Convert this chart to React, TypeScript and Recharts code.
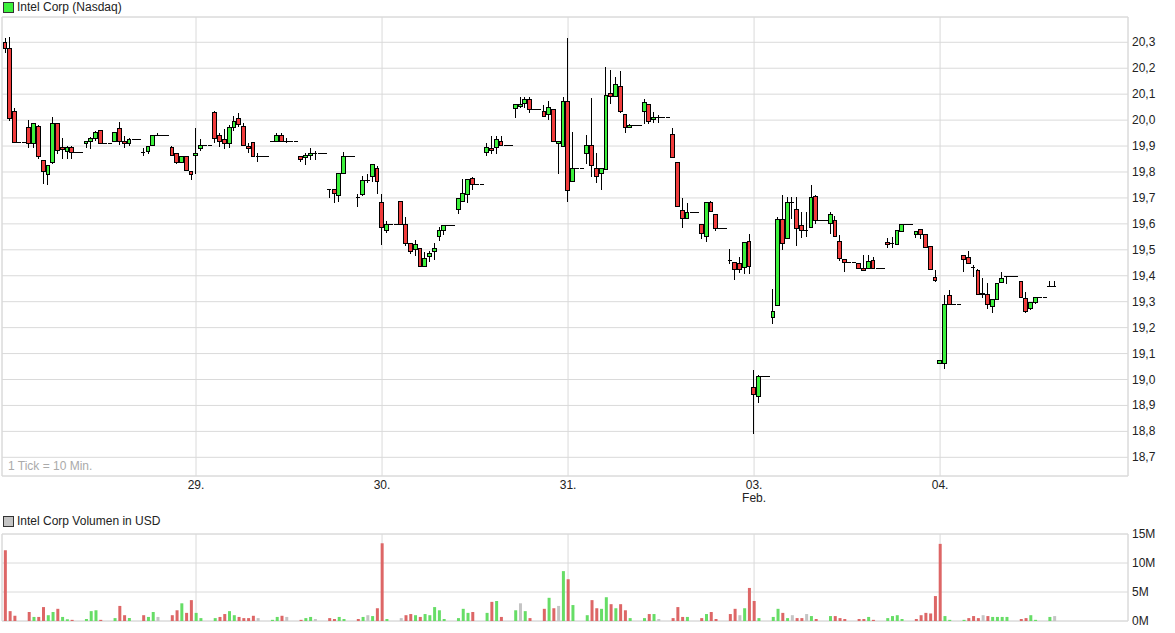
import React from "react";
import {
  ComposedChart,
  Bar,
  XAxis,
  YAxis,
  CartesianGrid,
  ReferenceArea,
  Cell,
} from "recharts";

// day boundaries sit on the first 10-min tick of each session
const dayTicks = [40, 79, 118, 157, 196];
const dayLabels = ["29.", "30.", "31.", "03.", "04."];
const monthLabels = ["", "", "", "Feb.", ""];
const priceTicks = [
  18.7, 18.8, 18.9, 19.0, 19.1, 19.2, 19.3, 19.4, 19.5, 19.6, 19.7, 19.8, 19.9,
  20.0, 20.1, 20.2, 20.3,
];
const volumeTicks = [0, 5, 10, 15];

const opens = [
  // 28.
  20.3, 20.275, 20.035, 19.915, 19.915, 19.97, 19.911, 19.974, 19.844, 19.789,
  19.835, 19.986, 19.893, 19.88, 19.895, 19.877, 19.877, 19.911, 19.919, 19.928,
  19.96, 19.911, 19.911, 19.919, 19.966, 19.919, 19.911, 19.927, 19.927, 19.874,
  19.879, 19.902, 19.939, 19.939, 19.939, 19.895, 19.87, 19.836, 19.86, 19.8,
  // 29.
  19.864, 19.891, 19.903, 19.903, 20.031, 19.939, 19.927, 19.909, 19.971, 20.006,
  19.974, 19.899, 19.915, 19.86, 19.86, 19.86, 19.917, 19.919, 19.939, 19.919,
  19.919, 19.919, 19.86, 19.856, 19.864, 19.873, 19.873, 19.873, 19.732, 19.731,
  19.708, 19.793, 19.861, 19.861, 19.7, 19.712, 19.769, 19.781, 19.814,
  // 30.
  19.683, 19.574, 19.597, 19.597, 19.686, 19.597, 19.526, 19.501, 19.506, 19.434,
  19.473, 19.493, 19.552, 19.574, 19.595, 19.595, 19.657, 19.685, 19.712, 19.774,
  19.752, 19.752, 19.874, 19.89, 19.894, 19.919, 19.903, 19.903, 20.045, 20.053,
  20.063, 20.081, 20.041, 20.041, 20.033, 20.021, 20.041, 19.911, 19.899,
  // 31.
  20.073, 19.764, 19.812, 19.812, 19.872, 19.903, 19.812, 19.793, 19.808, 20.104,
  20.09, 20.128, 20.021, 19.97, 19.978, 19.978, 20.035, 20.061, 20.002, 20.01,
  20.01, 20.01, 19.945, 19.835, 19.651, 19.62, 19.643, 19.643, 19.597, 19.551,
  19.681, 19.635, 19.581, 19.581, 19.46, 19.451, 19.447, 19.43, 19.533,
  // 03.
  18.971, 18.933, 19.01, 19.01, 19.24, 19.286, 19.616, 19.543, 19.681, 19.654,
  19.593, 19.576, 19.585, 19.704, 19.612, 19.612, 19.601, 19.612, 19.532, 19.463,
  19.451, 19.451, 19.447, 19.428, 19.428, 19.459, 19.428, 19.428, 19.528, 19.524,
  19.52, 19.57, 19.597, 19.597, 19.558, 19.577, 19.558, 19.512, 19.393,
  // 04.
  19.06, 19.061, 19.325, 19.291, 19.291, 19.478, 19.47, 19.43, 19.42, 19.331,
  19.327, 19.282, 19.308, 19.374, 19.397, 19.397, 19.397, 19.378, 19.314, 19.275,
  19.298, 19.317, 19.317, 19.36, 19.36,
];

const highs = [
  20.315, 20.32, 20.045, 19.915, 19.915, 20.002, 19.99, 19.98, 19.844, 19.824,
  20.011, 19.99, 19.93, 19.9, 19.9, 19.877, 19.877, 19.92, 19.935, 19.957,
  19.96, 19.911, 19.911, 19.954, 19.992, 19.94, 19.93, 19.927, 19.927, 19.893,
  19.9, 19.94, 19.95, 19.939, 19.939, 19.9, 19.87, 19.86, 19.86, 19.8,
  19.971, 19.927, 19.903, 19.903, 20.035, 19.95, 19.967, 19.98, 20.015, 20.027,
  19.99, 19.913, 19.915, 19.873, 19.86, 19.86, 19.917, 19.95, 19.95, 19.93,
  19.919, 19.919, 19.86, 19.872, 19.893, 19.88, 19.873, 19.873, 19.736, 19.731,
  19.794, 19.877, 19.861, 19.861, 19.715, 19.785, 19.794, 19.828, 19.822,
  19.715, 19.611, 19.597, 19.597, 19.686, 19.625, 19.526, 19.538, 19.506, 19.49,
  19.495, 19.525, 19.587, 19.595, 19.595, 19.595, 19.698, 19.773, 19.772, 19.782,
  19.752, 19.752, 19.912, 19.94, 19.94, 19.94, 19.903, 19.903, 20.061, 20.09,
  20.09, 20.09, 20.041, 20.041, 20.058, 20.074, 20.041, 19.919, 20.09,
  20.315, 19.956, 19.812, 19.812, 19.941, 20.086, 19.874, 19.812, 20.203, 20.195,
  20.165, 20.188, 20.021, 19.986, 19.978, 19.978, 20.08, 20.061, 20.03, 20.02,
  20.01, 20.01, 19.968, 19.835, 19.7, 19.679, 19.643, 19.643, 19.597, 19.681,
  19.69, 19.635, 19.581, 19.581, 19.502, 19.451, 19.474, 19.528, 19.56,
  19.035, 19.017, 19.01, 19.01, 19.349, 19.625, 19.712, 19.702, 19.705, 19.702,
  19.644, 19.647, 19.748, 19.713, 19.612, 19.612, 19.644, 19.631, 19.558, 19.463,
  19.451, 19.451, 19.447, 19.479, 19.479, 19.471, 19.428, 19.428, 19.544, 19.548,
  19.574, 19.597, 19.597, 19.597, 19.57, 19.58, 19.558, 19.512, 19.421,
  19.072, 19.327, 19.345, 19.291, 19.291, 19.478, 19.497, 19.441, 19.425, 19.391,
  19.372, 19.309, 19.372, 19.413, 19.4, 19.397, 19.397, 19.378, 19.338, 19.298,
  19.317, 19.317, 19.317, 19.379, 19.379,
];

const lows = [
  20.26, 19.995, 19.915, 19.915, 19.915, 19.894, 19.894, 19.85, 19.752, 19.748,
  19.83, 19.87, 19.85, 19.85, 19.85, 19.877, 19.877, 19.894, 19.89, 19.92,
  19.911, 19.911, 19.911, 19.919, 19.903, 19.894, 19.9, 19.927, 19.927, 19.86,
  19.87, 19.9, 19.939, 19.939, 19.939, 19.864, 19.83, 19.836, 19.805, 19.771,
  19.791, 19.88, 19.903, 19.903, 19.912, 19.895, 19.89, 19.892, 19.958, 19.974,
  19.903, 19.875, 19.86, 19.84, 19.86, 19.86, 19.917, 19.919, 19.919, 19.91,
  19.919, 19.919, 19.837, 19.827, 19.846, 19.846, 19.873, 19.873, 19.699, 19.68,
  19.686, 19.793, 19.861, 19.861, 19.664, 19.706, 19.756, 19.762, 19.716,
  19.52, 19.565, 19.597, 19.597, 19.594, 19.515, 19.485, 19.476, 19.434, 19.434,
  19.452, 19.462, 19.535, 19.558, 19.595, 19.595, 19.637, 19.685, 19.68, 19.732,
  19.752, 19.752, 19.862, 19.87, 19.87, 19.903, 19.903, 19.903, 20.008, 20.045,
  20.048, 20.028, 20.041, 20.041, 20.012, 20.0, 19.919, 19.791, 19.899,
  19.686, 19.764, 19.812, 19.812, 19.83, 19.782, 19.756, 19.732, 19.808, 20.061,
  20.09, 20.028, 19.949, 19.97, 19.978, 19.978, 19.984, 19.986, 19.988, 19.988,
  20.01, 20.01, 19.855, 19.664, 19.583, 19.62, 19.643, 19.643, 19.542, 19.532,
  19.647, 19.574, 19.581, 19.581, 19.446, 19.384, 19.411, 19.407, 19.407,
  18.791, 18.908, 19.01, 19.01, 19.213, 19.286, 19.5, 19.543, 19.618, 19.516,
  19.545, 19.549, 19.585, 19.599, 19.612, 19.612, 19.561, 19.551, 19.457, 19.416,
  19.451, 19.451, 19.428, 19.42, 19.428, 19.428, 19.428, 19.428, 19.506, 19.506,
  19.52, 19.57, 19.597, 19.597, 19.544, 19.54, 19.508, 19.423, 19.377,
  19.06, 19.04, 19.291, 19.291, 19.291, 19.413, 19.447, 19.396, 19.326, 19.314,
  19.272, 19.257, 19.308, 19.374, 19.37, 19.397, 19.397, 19.317, 19.257, 19.267,
  19.29, 19.317, 19.317, 19.36, 19.355,
];

const closes = [
  20.275, 20.008, 19.915, 19.915, 19.915, 19.911, 19.986, 19.858, 19.8, 19.824,
  19.986, 19.881, 19.885, 19.893, 19.877, 19.877, 19.877, 19.919, 19.928, 19.954,
  19.911, 19.911, 19.911, 19.954, 19.916, 19.911, 19.927, 19.927, 19.927, 19.874,
  19.899, 19.939, 19.939, 19.939, 19.939, 19.864, 19.836, 19.86, 19.805, 19.789,
  19.872, 19.903, 19.903, 19.903, 19.929, 19.919, 19.909, 19.971, 19.994, 19.984,
  19.903, 19.891, 19.86, 19.86, 19.86, 19.86, 19.917, 19.939, 19.919, 19.919,
  19.919, 19.919, 19.848, 19.864, 19.873, 19.873, 19.873, 19.873, 19.732, 19.716,
  19.794, 19.861, 19.861, 19.861, 19.7, 19.769, 19.769, 19.828, 19.764,
  19.586, 19.597, 19.597, 19.597, 19.597, 19.524, 19.493, 19.521, 19.434, 19.465,
  19.485, 19.505, 19.574, 19.595, 19.595, 19.595, 19.698, 19.716, 19.77, 19.752,
  19.752, 19.752, 19.895, 19.883, 19.927, 19.903, 19.903, 19.903, 20.061, 20.061,
  20.079, 20.041, 20.041, 20.041, 20.012, 20.048, 19.919, 19.919, 20.073,
  19.73, 19.812, 19.812, 19.812, 19.903, 19.824, 19.781, 19.812, 20.096, 20.09,
  20.136, 20.033, 19.97, 19.978, 19.978, 19.978, 20.066, 19.994, 20.01, 20.01,
  20.01, 20.01, 19.855, 19.666, 19.62, 19.643, 19.643, 19.643, 19.562, 19.681,
  19.647, 19.581, 19.581, 19.581, 19.46, 19.424, 19.424, 19.528, 19.434,
  18.941, 19.01, 19.01, 19.01, 19.263, 19.616, 19.524, 19.681, 19.681, 19.581,
  19.576, 19.576, 19.7, 19.612, 19.612, 19.612, 19.635, 19.551, 19.465, 19.451,
  19.451, 19.451, 19.428, 19.42, 19.455, 19.428, 19.428, 19.428, 19.52, 19.524,
  19.574, 19.597, 19.597, 19.597, 19.57, 19.558, 19.508, 19.426, 19.382,
  19.072, 19.288, 19.291, 19.291, 19.291, 19.462, 19.447, 19.43, 19.326, 19.326,
  19.289, 19.309, 19.372, 19.391, 19.397, 19.397, 19.397, 19.317, 19.263, 19.298,
  19.317, 19.317, 19.317, 19.36, 19.36,
];

// volume in million USD, 0 = no trade in that tick
const volumes = [
  12.2, 1.7, 0.9, 0, 0, 1.55, 0.7, 0.7, 2.4, 1.0,
  1.55, 2.1, 0.7, 0.3, 0.2, 0, 0, 0.35, 1.7, 1.85,
  0.2, 0, 0, 0.5, 2.6, 1.0, 0.5, 0, 0, 1.0,
  0.7, 1.55, 0.7, 0, 0, 1.0, 1.85, 3.05, 1.4, 3.6,
  1.4, 0.5, 0, 0, 0.5, 0.7, 1.2, 1.7, 1.0, 0.7,
  0.5, 0.5, 0.9, 0.5, 0, 0, 0.2, 0.7, 0.9, 0.7,
  0, 0, 0.2, 0.5, 0.7, 0.35, 0, 0, 0.5, 0.35,
  0.7, 0.35, 0, 0, 0.35, 0.7, 1.0, 0.85, 2.2,
  13.4, 0.35, 0, 0, 0.5, 1.0, 1.2, 1.0, 0.7, 1.2,
  1.0, 2.4, 1.85, 0.35, 0, 0, 0.5, 2.1, 1.4, 1.55,
  0, 0, 1.4, 3.3, 3.45, 0.7, 0, 0, 1.85, 3.05,
  1.7, 0.5, 0, 0, 2.1, 4.0, 2.2, 2.6, 8.6,
  7.2, 2.75, 0, 0, 1.0, 3.6, 2.2, 2.1, 4.1, 2.9,
  2.2, 2.9, 1.85, 0.5, 0, 0, 0.5, 1.2, 1.2, 0.35,
  0, 0, 0.5, 2.4, 0.7, 0.7, 0, 0, 0.5, 1.2,
  1.55, 0.35, 0, 0, 1.2, 2.1, 1.0, 2.2, 5.7,
  3.45, 0.5, 0, 0, 0.7, 2.1, 1.4, 0.5, 1.0, 0.5,
  0.5, 1.2, 0.85, 0.35, 0, 0, 0.85, 0.85, 0.5, 0.35,
  0, 0, 0.35, 0.35, 0.7, 0.2, 0, 0, 0.5, 0.85,
  1.0, 0.35, 0, 0, 0.35, 1.0, 1.4, 1.3, 4.3,
  13.3, 0.85, 0.2, 0, 0, 0.2, 0.5, 0.85, 0.5, 1.0,
  0.85, 0.7, 0.7, 0.7, 0.7, 0, 0, 0.35, 0.5, 1.0,
  0.2, 0, 0, 0.7, 0.85,
];

const X_DOMAIN: [number, number] = [-0.68, 235.4];
const PRICE_DOMAIN: [number, number] = [18.628, 20.3975];
const VOL_DOMAIN: [number, number] = [0, 15];

const UP = "#3cf03c";
const DOWN = "#f03c3c";
const VOL_UP = "#66dd66";
const VOL_DOWN = "#dd6666";
const VOL_FLAT = "#c4c4c4";
const GRID = "#dadada";
const FONT = '"Liberation Sans", Arial, sans-serif';

const candles = opens.map((o, i) => ({
  i,
  o,
  h: highs[i],
  l: lows[i],
  c: closes[i],
  v: volumes[i],
}));

const volColor = (i: number) => {
  const prev = i === 0 ? opens[0] : closes[i - 1];
  const d = closes[i] - prev;
  if (Math.abs(d) < 1e-9) return VOL_FLAT;
  return d > 0 ? VOL_UP : VOL_DOWN;
};

function Candle(props: any) {
  const { x, y, width, height, payload } = props;
  if (!payload || x == null || y == null) return null;
  const { o, h, l, c } = payload;
  const cx = x + width / 2;
  // bar spans low..high, so pixels per unit come from the bar itself
  const k = h > l ? height / (h - l) : 0;
  const py = (v: number) => y + (h - v) * k;

  if (h === l) {
    return (
      <line x1={x} x2={x + width} y1={y} y2={y} stroke="#000" strokeWidth={1} shapeRendering="crispEdges" />
    );
  }
  const wick = (
    <line x1={cx} x2={cx} y1={py(h)} y2={py(l)} stroke="#000" strokeWidth={1} shapeRendering="crispEdges" />
  );
  if (o === c) {
    return (
      <g>
        {wick}
        <line x1={x} x2={x + width} y1={py(o)} y2={py(o)} stroke="#000" strokeWidth={1} shapeRendering="crispEdges" />
      </g>
    );
  }
  const top = py(Math.max(o, c));
  const bot = py(Math.min(o, c));
  return (
    <g>
      {wick}
      <rect
        x={cx - 1.9}
        y={top}
        width={3.8}
        height={Math.max(bot - top, 1)}
        fill={c > o ? UP : DOWN}
        stroke="#000"
        strokeWidth={1}
        shapeRendering="crispEdges"
      />
    </g>
  );
}

const PriceTick = ({ x, y, payload }: any) => (
  <text x={x + 4} y={y} dy={4} fontSize={12} fill="#222" fontFamily={FONT}>
    {Number(payload.value).toFixed(1).replace(".", ",")}
  </text>
);

const VolTick = ({ x, y, payload }: any) => (
  <text x={x + 4} y={y} dy={4} fontSize={12} fill="#222" fontFamily={FONT}>
    {`${payload.value}M`}
  </text>
);

const DayTick = ({ x, y, payload }: any) => {
  const k = dayTicks.indexOf(payload.value);
  return (
    <g>
      <text x={x} y={y} dy={13} textAnchor="middle" fontSize={12} fill="#222" fontFamily={FONT}>
        {dayLabels[k]}
      </text>
      {monthLabels[k] ? (
        <text x={x} y={y} dy={26} textAnchor="middle" fontSize={12} fill="#222" fontFamily={FONT}>
          {monthLabels[k]}
        </text>
      ) : null}
    </g>
  );
};

function LegendBox({ color, label, top }: { color: string; label: string; top: number }) {
  return (
    <div style={{ position: "absolute", left: 3, top, height: 12, display: "flex", alignItems: "center" }}>
      <div style={{ width: 9, height: 9, background: color, border: "1px solid #333" }} />
      <span style={{ marginLeft: 3, fontSize: 12, color: "#222", lineHeight: "12px" }}>{label}</span>
    </div>
  );
}

export default function App() {
  return (
    <div
      style={{
        position: "absolute",
        left: 0,
        top: 0,
        width: 1175,
        height: 633,
        background: "#fff",
        fontFamily: FONT,
        overflow: "hidden",
      }}
    >
      <LegendBox color={UP} label="Intel Corp (Nasdaq)" top={1} />

      <div style={{ position: "absolute", left: 0, top: 0 }}>
        <ComposedChart width={1175} height={510} data={candles} margin={{ top: 17, right: 0, bottom: 0, left: 2 }}>
          <CartesianGrid stroke={GRID} vertical horizontal />
          <ReferenceArea
            x1={X_DOMAIN[0]}
            x2={X_DOMAIN[1]}
            y1={PRICE_DOMAIN[0]}
            y2={PRICE_DOMAIN[1]}
            fill="none"
            fillOpacity={0}
            stroke={GRID}
            ifOverflow="visible"
          />
          <XAxis
            type="number"
            dataKey="i"
            domain={X_DOMAIN}
            allowDataOverflow
            ticks={dayTicks}
            interval={0}
            height={34}
            tickSize={0}
            tickMargin={0}
            axisLine={false}
            tickLine={false}
            tick={<DayTick />}
          />
          <YAxis
            orientation="right"
            domain={PRICE_DOMAIN}
            allowDataOverflow
            ticks={priceTicks}
            interval={0}
            width={47}
            tickSize={0}
            tickMargin={0}
            axisLine={false}
            tickLine={false}
            tick={<PriceTick />}
          />
          <Bar
            dataKey={(d: any) => [d.l, d.h]}
            barSize={5}
            isAnimationActive={false}
            shape={(p: any) => <Candle {...p} />}
          />
        </ComposedChart>
      </div>

      <div
        style={{
          position: "absolute",
          left: 8,
          top: 459,
          fontSize: 12,
          color: "#aaa",
          lineHeight: "14px",
        }}
      >
        1 Tick = 10 Min.
      </div>

      <LegendBox color={VOL_FLAT} label="Intel Corp Volumen in USD" top={515} />

      <div style={{ position: "absolute", left: 0, top: 510 }}>
        <ComposedChart width={1175} height={123} data={candles} margin={{ top: 24, right: 0, bottom: 12, left: 2 }}>
          <CartesianGrid stroke={GRID} vertical horizontal />
          <ReferenceArea
            x1={X_DOMAIN[0]}
            x2={X_DOMAIN[1]}
            y1={VOL_DOMAIN[0]}
            y2={VOL_DOMAIN[1]}
            fill="none"
            fillOpacity={0}
            stroke={GRID}
            ifOverflow="visible"
          />
          <XAxis type="number" dataKey="i" domain={X_DOMAIN} allowDataOverflow ticks={dayTicks} hide />
          <YAxis
            orientation="right"
            domain={VOL_DOMAIN}
            allowDataOverflow
            ticks={volumeTicks}
            interval={0}
            width={47}
            tickSize={0}
            tickMargin={0}
            axisLine={false}
            tickLine={false}
            tick={<VolTick />}
          />
          <Bar dataKey="v" barSize={3} isAnimationActive={false}>
            {candles.map((d) => (
              <Cell key={d.i} fill={volColor(d.i)} />
            ))}
          </Bar>
        </ComposedChart>
      </div>
    </div>
  );
}
